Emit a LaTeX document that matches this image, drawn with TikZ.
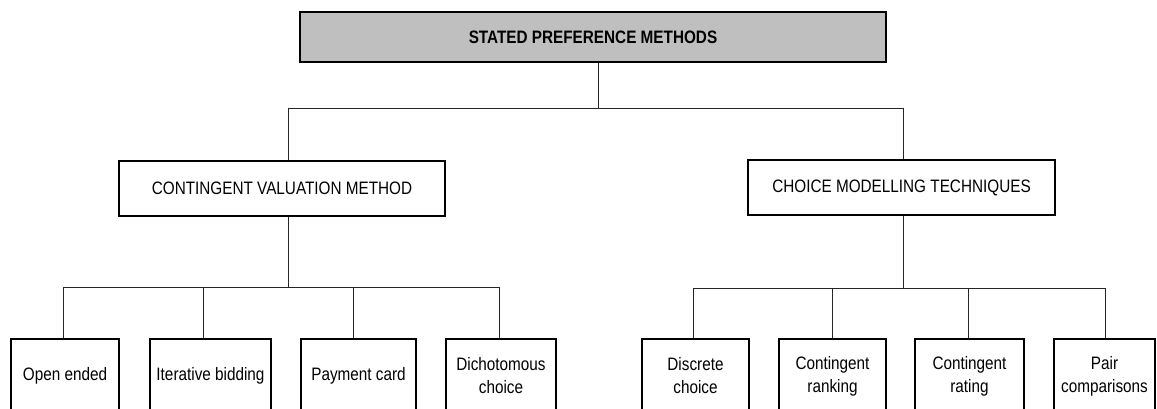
\documentclass[tikz,border=0pt]{standalone}
\usepackage{fontspec}
\setmainfont{Liberation Sans}[FakeStretch=0.85]
\begin{document}
\begin{tikzpicture}[x=0.75pt,y=-0.75pt,
  box/.style={draw=black, line width=1.2pt, inner sep=0pt, align=center,
              font=\fontsize{13.5}{17.25}\selectfont},
  headbox/.style={box, fill=black!25, font=\fontsize{13.5}{17.25}\selectfont\bfseries},
  leafbox/.style={box, minimum height=55.5pt},
  link/.style={draw=black!85, line width=0.6pt}]
\path[use as bounding box, clip] (0,0) rectangle (1157,409);

% root
\node[headbox, minimum width=439.5pt, minimum height=37.5pt] (top) at (593,37) {STATED PREFERENCE METHODS};

% second level
\node[box, minimum width=244.5pt, minimum height=41.25pt] (cvm) at (282,188.5) {CONTINGENT VALUATION METHOD};
\node[box, minimum width=230.25pt, minimum height=41.25pt] (cmt) at (901.5,187.5) {CHOICE MODELLING TECHNIQUES};

% leaves
\node[leafbox, minimum width=81pt]    (open) at (65,376)    {Open ended};
\node[leafbox, minimum width=90.75pt] (iter) at (210.5,376) {Iterative bidding};
\node[leafbox, minimum width=86.25pt] (pay)  at (358.5,376) {Payment card};
\node[leafbox, minimum width=82.5pt]  (dich) at (501,376)   {Dichotomous\\choice};
\node[leafbox, minimum width=80.25pt] (disc) at (695.5,376) {Discrete\\choice};
\node[leafbox, minimum width=80.25pt] (rank) at (832.5,376) {Contingent\\ranking};
\node[leafbox, minimum width=81.75pt] (rate) at (969.5,376) {Contingent\\rating};
\node[leafbox, minimum width=75.75pt] (pair) at (1104.5,376) {Pair\\comparisons};

% junction points on the buses
\coordinate (j0) at (598,108);
\coordinate (ja) at (288,108);
\coordinate (jb) at (903,108);
\coordinate (ka) at (288,287);
\coordinate (a1) at (63,287);
\coordinate (a2) at (203,287);
\coordinate (a3) at (353,287);
\coordinate (a4) at (499,287);
\coordinate (kb) at (903,288);
\coordinate (b1) at (693,288);
\coordinate (b2) at (832,288);
\coordinate (b3) at (968,288);
\coordinate (b4) at (1105,288);

% root to second level
\draw[link] (top.south -| j0) -- (j0);
\draw[link] (cvm.north -| ja) -- (ja) -- (jb) -- (cmt.north -| jb);

% contingent valuation branch
\draw[link] (cvm.south -| ka) -- (ka);
\draw[link] (a1) -- (a4);
\draw[link] (a1) -- (open.north -| a1);
\draw[link] (a2) -- (iter.north -| a2);
\draw[link] (a3) -- (pay.north -| a3);
\draw[link] (a4) -- (dich.north -| a4);

% choice modelling branch
\draw[link] (cmt.south -| kb) -- (kb);
\draw[link] (b1) -- (b4);
\draw[link] (b1) -- (disc.north -| b1);
\draw[link] (b2) -- (rank.north -| b2);
\draw[link] (b3) -- (rate.north -| b3);
\draw[link] (b4) -- (pair.north -| b4);
\end{tikzpicture}
\end{document}
